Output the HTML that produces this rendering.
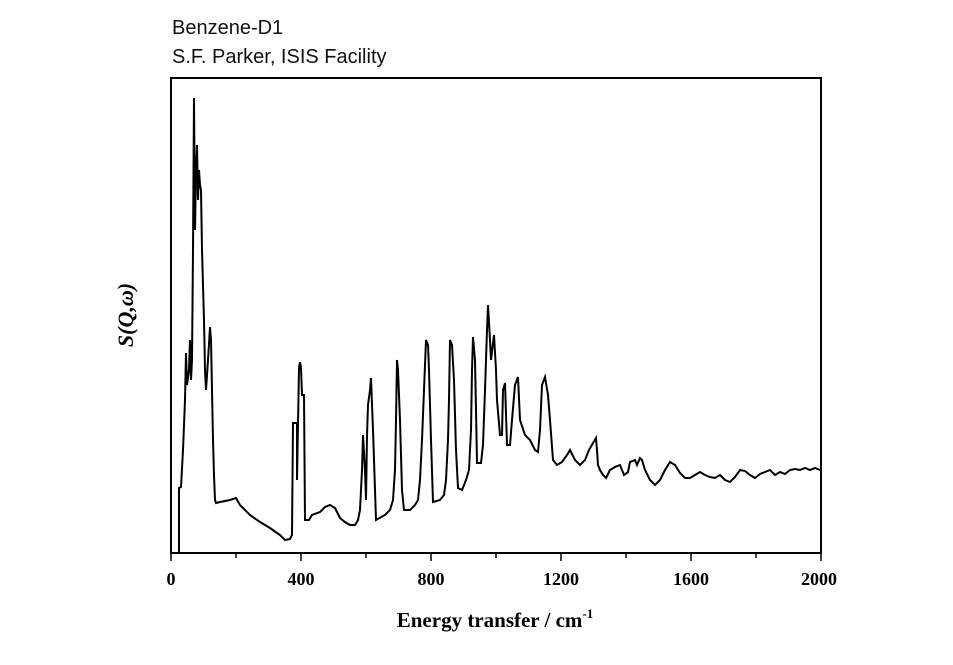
<!DOCTYPE html>
<html><head><meta charset="utf-8"><style>
html,body{margin:0;padding:0;background:#fff;width:953px;height:665px;overflow:hidden}
</style></head><body>
<svg width="953" height="665" xmlns="http://www.w3.org/2000/svg">
<text x="172" y="34" font-family="Liberation Sans, sans-serif" font-size="20" fill="#111">Benzene-D1</text>
<text x="172" y="63" font-family="Liberation Sans, sans-serif" font-size="20" fill="#111">S.F. Parker, ISIS Facility</text>
<rect x="171" y="78" width="650" height="475" fill="none" stroke="#000" stroke-width="2"/>
<g stroke="#000" stroke-width="1.5">
<line x1="171" y1="553" x2="171" y2="561"/><line x1="236" y1="553" x2="236" y2="558"/>
<line x1="301" y1="553" x2="301" y2="561"/><line x1="366" y1="553" x2="366" y2="558"/>
<line x1="431" y1="553" x2="431" y2="561"/><line x1="496" y1="553" x2="496" y2="558"/>
<line x1="561" y1="553" x2="561" y2="561"/><line x1="626" y1="553" x2="626" y2="558"/>
<line x1="691" y1="553" x2="691" y2="561"/><line x1="756" y1="553" x2="756" y2="558"/>
<line x1="821" y1="553" x2="821" y2="561"/>
</g>
<g font-family="Liberation Serif, serif" font-weight="bold" font-size="18" text-anchor="middle" fill="#000">
<text x="171" y="585">0</text><text x="301" y="585">400</text><text x="431" y="585">800</text>
<text x="561" y="585">1200</text><text x="691" y="585">1600</text><text x="819" y="585">2000</text>
</g>
<text x="495" y="627" font-family="Liberation Serif, serif" font-weight="bold" font-size="21" text-anchor="middle">Energy transfer / cm<tspan dy="-9" font-size="13">-1</tspan></text>
<text transform="translate(133,315) rotate(-90)" font-family="Liberation Serif, serif" font-weight="bold" font-style="italic" font-size="22" text-anchor="middle">S(Q,ω)</text>
<polyline fill="none" stroke="#000" stroke-width="2" stroke-linejoin="miter" points="
179,553 179,488 181,487 183,450 185,400 186,353 187,385 189,370 190,340 191,380 192,360 193,250 194,98 195,230 196,170 197,145 198,200 199,170 200,185 201,190 202,250 204,320 205,370 206,390 208,360 210,327 211,340 212,390 213,440 214,475 215,500 216,503 220,502 230,500 236,498 240,505 250,515 260,522 270,528 280,535 285,540 290,539 292,535 293,423 297,423 297,480 299,368 300,362 301,368 302,395 304,395 305,520 309,520 312,515 320,512 325,507 330,505 335,508 340,518 345,522 350,525 355,525 358,520 360,510 362,470 363,435 365,470 366,500 367,436 368,405 370,390 371,378 373,430 375,490 376,520 385,515 390,510 393,500 395,470 396,420 397,360 398,370 400,420 402,490 404,510 410,510 415,505 418,500 420,480 422,440 424,390 426,340 428,345 429,370 431,440 433,502 440,500 444,495 446,480 448,440 449,400 450,340 452,345 454,380 456,450 458,488 462,490 466,480 469,470 471,430 472,370 473,337 475,360 476,410 477,463 481,463 483,445 485,390 487,330 488,305 490,340 491,360 494,335 496,370 497,400 500,435 502,435 503,390 505,383 507,445 510,445 512,420 515,385 518,377 520,420 525,435 530,440 535,450 538,452 540,430 542,385 545,377 548,395 550,420 553,460 557,465 562,462 567,455 570,450 575,460 580,465 585,460 589,450 596,438 597,450 598,465 600,470 603,475 606,478 610,470 615,467 620,465 624,475 628,472 630,462 635,460 637,465 640,458 642,460 645,470 650,480 655,485 660,480 665,470 670,462 675,465 680,473 685,478 690,478 695,475 700,472 705,475 710,477 715,478 720,475 725,480 730,482 735,477 740,470 745,471 750,475 755,478 760,474 765,472 770,470 775,475 780,472 785,474 790,470 795,469 800,470 805,468 810,470 815,468 820,470"/>
</svg>
</body></html>
